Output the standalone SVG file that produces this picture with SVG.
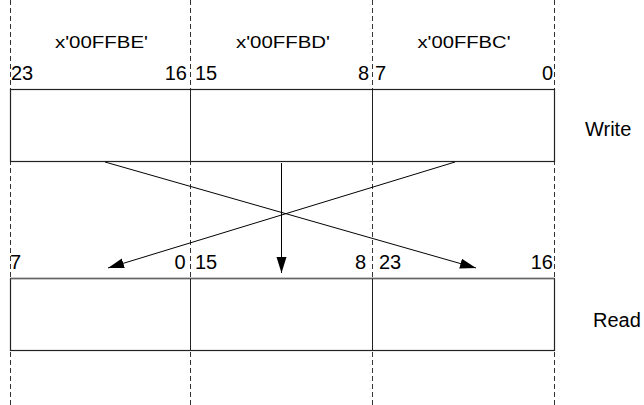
<svg xmlns="http://www.w3.org/2000/svg" width="644" height="405" viewBox="0 0 644 405">
<style>
.guide{stroke:#333;stroke-width:1;stroke-dasharray:5,3;fill:none}
.box{stroke:#222;stroke-width:1.2;fill:#fff}
.div{stroke:#222;stroke-width:1}
.conn{stroke:#000;stroke-width:1;fill:none;marker-end:url(#ah)}
text{font-family:"Liberation Sans",Arial,sans-serif;font-size:20px;fill:#000}
.hdr{font-size:17px}
</style>
<defs>
<marker id="ah" markerUnits="userSpaceOnUse" markerWidth="17" markerHeight="11" refX="16" refY="5" orient="auto">
<path d="M0,0 L16,5 L0,10 Z" fill="#000"/>
</marker>
</defs>
<rect width="644" height="405" fill="#fff"/>
<g id="guides">
<line class="guide" x1="10.5" y1="0" x2="10.5" y2="405"/>
<line class="guide" x1="190.5" y1="0" x2="190.5" y2="405"/>
<line class="guide" x1="372.5" y1="0" x2="372.5" y2="405"/>
<line class="guide" x1="554.5" y1="0" x2="554.5" y2="405"/>
</g>
<g id="headers">
<text class="hdr" x="101.5" y="48" text-anchor="middle" textLength="93" lengthAdjust="spacingAndGlyphs">x'00FFBE'</text>
<text class="hdr" x="283" y="48" text-anchor="middle" textLength="94" lengthAdjust="spacingAndGlyphs">x'00FFBD'</text>
<text class="hdr" x="464" y="48" text-anchor="middle" textLength="93" lengthAdjust="spacingAndGlyphs">x'00FFBC'</text>
</g>
<g id="write-register">
<rect class="box" x="10.5" y="89.5" width="544" height="72"/>
<line class="div" x1="190.5" y1="89.5" x2="190.5" y2="161.5"/>
<line class="div" x1="372.5" y1="89.5" x2="372.5" y2="161.5"/>
<text x="11" y="80">23</text>
<text x="187" y="80" text-anchor="end">16</text>
<text x="195" y="80">15</text>
<text x="369" y="80" text-anchor="end">8</text>
<text x="375" y="80">7</text>
<text x="553" y="80" text-anchor="end">0</text>
<text x="585" y="136">Write</text>
</g>
<g id="read-register">
<rect class="box" x="10.5" y="278.5" width="544" height="72"/>
<line x1="10.5" y1="278.5" x2="554.5" y2="278.5" stroke="#666" stroke-width="1.6"/>
<line class="div" x1="190.5" y1="278.5" x2="190.5" y2="350.5"/>
<line class="div" x1="372.5" y1="278.5" x2="372.5" y2="350.5"/>
<text x="10" y="269">7</text>
<text x="185.5" y="269" text-anchor="end">0</text>
<text x="195" y="269">15</text>
<text x="366" y="269" text-anchor="end">8</text>
<text x="379" y="269">23</text>
<text x="553" y="269" text-anchor="end">16</text>
<text x="593" y="327">Read</text>
</g>
<g id="connectors">
<line class="conn" x1="105" y1="162" x2="476" y2="268"/>
<line class="conn" x1="455" y1="162" x2="108" y2="268"/>
<line class="conn" x1="281.5" y1="163" x2="281.5" y2="273"/>
</g>
</svg>
